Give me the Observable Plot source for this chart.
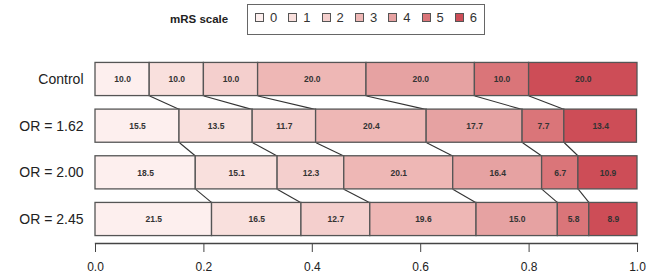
<!DOCTYPE html>
<html>
<head>
<meta charset="utf-8">
<script src="https://cdn.jsdelivr.net/npm/d3@7"></script>
<script src="https://cdn.jsdelivr.net/npm/@observablehq/plot@0.6"></script>
<style>
  html, body { margin: 0; padding: 0; background: #fff; width: 648px; height: 280px; overflow: hidden; }
  body { font-family: "Liberation Sans", Arial, sans-serif; }
  #legend { position: relative; height: 40px; }
  #legend .title { position: absolute; left: 170px; top: 13px; font-weight: bold; font-size: 11.5px; color: #222; }
  #legend .box { position: absolute; left: 247px; top: 4px; width: 236px; height: 29px; border: 1.5px solid #666; box-sizing: content-box; }
  #legend .item { position: absolute; top: 10px; display: flex; align-items: center; font-size: 13px; color: #333; }
  #legend .sw { width: 7px; height: 7px; border: 1.3px solid #555; margin-right: 6px; }
</style>
</head>
<body>
<div id="legend"></div>
<div id="chart"></div>
<script>
const groups = ["Control", "OR = 1.62", "OR = 2.00", "OR = 2.45"];
const categories = ["0", "1", "2", "3", "4", "5", "6"];
const control = [10.0, 10.0, 10.0, 20.0, 20.0, 10.0, 20.0];
const or162 = [15.5, 13.5, 11.7, 20.4, 17.7, 7.7, 13.4];
const or200 = [18.5, 15.1, 12.3, 20.1, 16.4, 6.7, 10.9];
const or245 = [21.5, 16.5, 12.7, 19.6, 15.0, 5.8, 8.9];
const colors = ["#fdefee", "#f9e0dd", "#f4cfcd", "#eeb7b5", "#e6a2a2", "#da7579", "#cd4d57"];
const xTicks = [0, 0.2, 0.4, 0.6, 0.8, 1.0];

const series = [control, or162, or200, or245];

// table built from the arrays
const bars = [];
const cums = [];
series.forEach((vals, row) => {
  const cum = [0, ...d3.cumsum(vals.map(v => v / 100))];
  cums.push(cum);
  vals.forEach((v, k) => {
    bars.push({group: groups[row], row, cat: categories[k], value: v, x1: cum[k], x2: cum[k + 1]});
  });
});
const links = [];
for (let row = 0; row < series.length - 1; row++) {
  for (let k = 1; k < categories.length; k++) {
    links.push({x1: cums[row][k], x2: cums[row + 1][k], r1: row, r2: row + 1});
  }
}
const half = 0.355;

// legend
const leg = document.getElementById("legend");
leg.innerHTML = `<div class="title">mRS scale</div><div class="box"></div>`;
categories.forEach((c, i) => {
  const it = document.createElement("div");
  it.className = "item";
  it.style.left = (255 + i * 33.3) + "px";
  it.innerHTML = `<span class="sw" style="background:${colors[i]}"></span><span>${c}</span>`;
  leg.appendChild(it);
});

const chart = Plot.plot({
  width: 648,
  height: 240,
  marginLeft: 95,
  marginRight: 11,
  marginTop: 10,
  marginBottom: 37,
  style: {fontFamily: "Liberation Sans, Arial, sans-serif", background: "#fff", color: "#222"},
  x: {domain: [0, 1], label: null},
  y: {type: "linear", domain: [0, 3], range: [39, 179], label: null},
  color: {type: "ordinal", domain: categories, range: colors},
  marks: [
    Plot.link(links, {
      x1: "x1", x2: "x2",
      y1: d => d.r1 + half, y2: d => d.r2 - half,
      stroke: "#333", strokeWidth: 1.1
    }),
    Plot.rectX(bars, {
      x1: "x1", x2: "x2",
      y1: d => d.row - half, y2: d => d.row + half,
      fill: "cat", stroke: "#555", strokeWidth: 1.3
    }),
    Plot.text(bars, {
      x: d => (d.x1 + d.x2) / 2, y: "row",
      text: d => d.value.toFixed(1),
      fontSize: 8.5, fontWeight: "bold", fill: "#333"
    }),
    Plot.axisY({
      ticks: [0, 1, 2, 3],
      tickFormat: i => groups[i],
      tickSize: 0, tickPadding: 12,
      fontSize: 14, fill: "#222", label: null
    }),
    Plot.axisX({
      ticks: xTicks,
      tickFormat: d => d.toFixed(1),
      tickSize: 9, tickPadding: 10,
      fontSize: 12, stroke: "#444", fill: "#222", label: null
    }),
    Plot.frame({anchor: "bottom", stroke: "#444", strokeWidth: 1.3})
  ]
});
document.getElementById("chart").appendChild(chart);
</script>
</body>
</html>
